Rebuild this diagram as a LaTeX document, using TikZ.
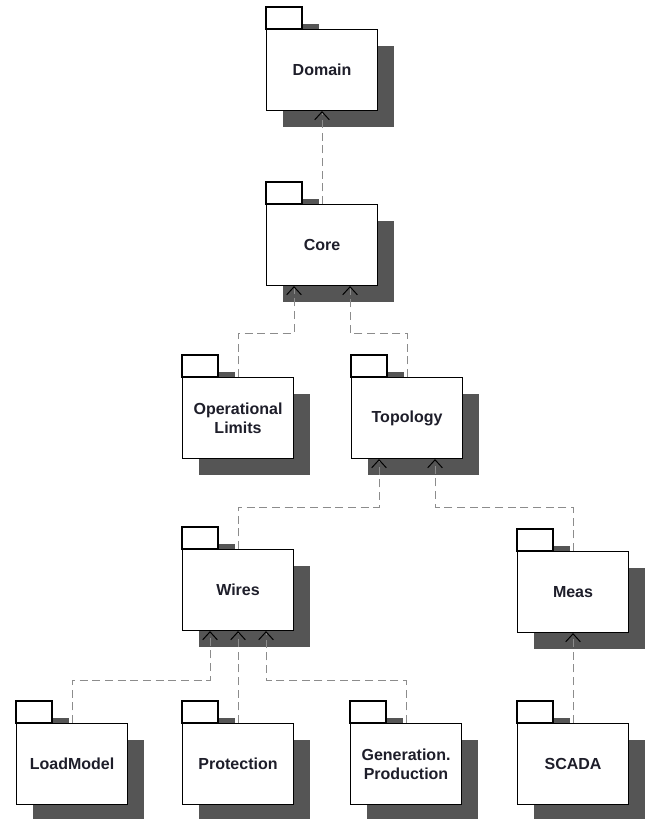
\documentclass[tikz,border=0pt]{standalone}
\usepackage{fontspec}
\newfontfamily\pkgfont{Liberation Sans}
\usetikzlibrary{arrows.meta,calc}
\definecolor{shadowgray}{HTML}{555555}
\definecolor{depgray}{HTML}{8C8C8C}
\definecolor{pkgtext}{HTML}{1E1E2A}

\tikzset{
  pkg/.style={draw, fill=white, line width=0.8pt, anchor=north west,
    minimum width=83.25pt, minimum height=60.75pt, inner sep=0pt, align=center,
    text=pkgtext, font=\pkgfont\bfseries\fontsize{12}{14}\selectfont},
  pkgtab/.style={draw, fill=white, line width=0.8pt},
  pkgshadow/.style={fill=shadowgray},
  dep/.style={depgray, line width=0.75pt, dash pattern=on 6pt off 3.5pt,
    -{Straight Barb[length=6pt,width=11pt,color=black,line width=0.75pt]}},
}

% package with tab and shadow: name, left, top (of body), text
\newcommand{\umlpkg}[4]{%
  \fill[pkgshadow] (#2+17,#3-5) rectangle (#2+53,#3+17);
  \fill[pkgshadow] (#2+17,#3+17) rectangle (#2+128,#3+98);
  \draw[pkgtab] (#2,#3-22) rectangle (#2+36,#3);
  \node[pkg] (#1) at (#2,#3) {#4};
}

\begin{document}
\begin{tikzpicture}[x=0.75pt,y=-0.75pt]
  \useasboundingbox (0,0) rectangle (651,819);

  \umlpkg{domain}{266}{29}{Domain}
  \umlpkg{core}{266}{204}{Core}
  \umlpkg{oplim}{182}{377}{Operational\\Limits}
  \umlpkg{topo}{351}{377}{Topology}
  \umlpkg{wires}{182}{549}{Wires}
  \umlpkg{meas}{517}{551}{Meas}
  \umlpkg{load}{16}{723}{LoadModel}
  \umlpkg{prot}{182}{723}{Protection}
  \umlpkg{gen}{350}{723}{Generation.\\Production}
  \umlpkg{scada}{517}{723}{SCADA}

  % dependencies
  \draw[dep] (core.north) -- (domain.south);
  \draw[dep] (oplim.north) -- ++(0,-44) -| ($(core.south west)!0.25!(core.south east)$);
  \draw[dep] (topo.north) -- ++(0,-44) -| ($(core.south west)!0.75!(core.south east)$);
  \draw[dep] (wires.north) -- ++(0,-42) -| ($(topo.south west)!0.25!(topo.south east)$);
  \draw[dep] (meas.north) -- ++(0,-44) -| ($(topo.south west)!0.75!(topo.south east)$);
  \draw[dep] (load.north) -- ++(0,-43) -| ($(wires.south west)!0.25!(wires.south east)$);
  \draw[dep] (prot.north) -- (wires.south);
  \draw[dep] (gen.north) -- ++(0,-43) -| ($(wires.south west)!0.75!(wires.south east)$);
  \draw[dep] (scada.north) -- (meas.south);
\end{tikzpicture}
\end{document}
